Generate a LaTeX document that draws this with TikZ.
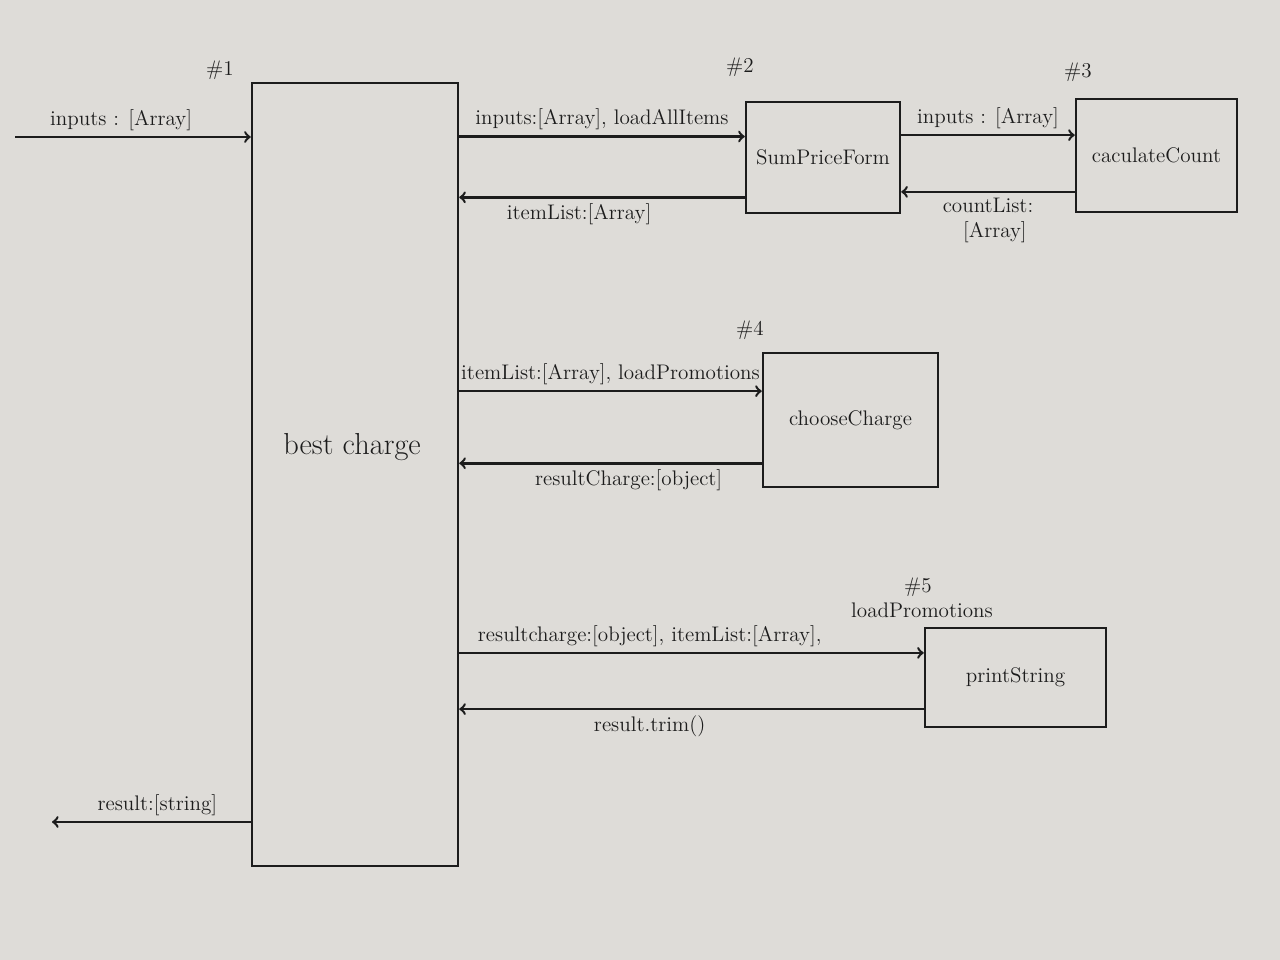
\documentclass[tikz,border=0pt]{standalone}
\usetikzlibrary{positioning}
\definecolor{paper}{RGB}{222,220,216}
\definecolor{ink}{RGB}{28,28,28}
\begin{document}
\begin{tikzpicture}[box/.style={draw=ink,line width=1.4pt,rectangle,inner sep=0pt,font=\large,text=ink},
lbl/.style={font=\large,text=ink,inner sep=3pt},
post/.style={->,>=to,line width=1.4pt,draw=ink}]

\fill[paper] (0,0) rectangle (25.6,19.2);

% the five parts
\node[box,minimum width=4.12cm,minimum height=15.66cm] at (7.10,9.71) (bc) {};
\node[lbl,font=\LARGE] at (7.04,10.26) (bctxt) {best charge};
\node[box,minimum width=3.08cm,minimum height=2.22cm] at (16.46,16.05) (spf) {SumPriceForm};
\node[box,minimum width=3.22cm,minimum height=2.26cm] at (23.13,16.09) (cc) {caculateCount};
\node[box,minimum width=3.5cm,minimum height=2.68cm] at (17.01,10.80) (ch) {chooseCharge};
\node[box,minimum width=3.62cm,minimum height=1.98cm] at (20.31,5.65) (ps) {printString};

\foreach \n/\x/\y in {1/4.40/17.8, 2/14.8/17.86, 3/21.56/17.76, 4/15.0/12.6, 5/18.36/7.45}{
\node[lbl] at (\x,\y) (h\n) {\#\n};
}

% in and out
\coordinate (src) at (0.3,16.46);
\coordinate (sink) at (1.04,2.76);
\draw[post] (src) -- (src -| bc.west) node[lbl,above,pos=.45] {inputs : [Array]};
\draw[post] (bc.west |- sink) -- (sink) node[lbl,above,pos=.47] {result:[string]};

% calls and returns
\draw[post] (bc.east |- spf.165) -- (spf.165) node[lbl,above,midway] {inputs:[Array], loadAllItems};
\draw[post] (spf.207) -- (bc.east |- spf.207) node[lbl,below,pos=.58] {itemList:[Array]};

\draw[post] (spf.east |- cc.166) -- (cc.166) node[lbl,above,midway] {inputs : [Array]};
\draw[post] (cc.204) -- (spf.east |- cc.204) node[lbl,below,midway,align=center] {countList:\\\ \ [Array]};

\draw[post] (bc.east |- ch.162) -- (ch.162) node[lbl,above,midway] {itemList:[Array], loadPromotions};
\draw[post] (ch.206) -- (bc.east |- ch.206) node[lbl,below,pos=.44] {resultCharge:[object]};

\draw[post] (bc.east |- ps.165) -- (ps.165) node[lbl,above,pos=.41] {resultcharge:[object], itemList:[Array],};
\node[lbl] at (18.44,7.0) (lp) {loadPromotions};
\draw[post] (ps.199) -- (bc.east |- ps.199) node[lbl,below,pos=.59] {result.trim()};

\end{tikzpicture}
\end{document}
